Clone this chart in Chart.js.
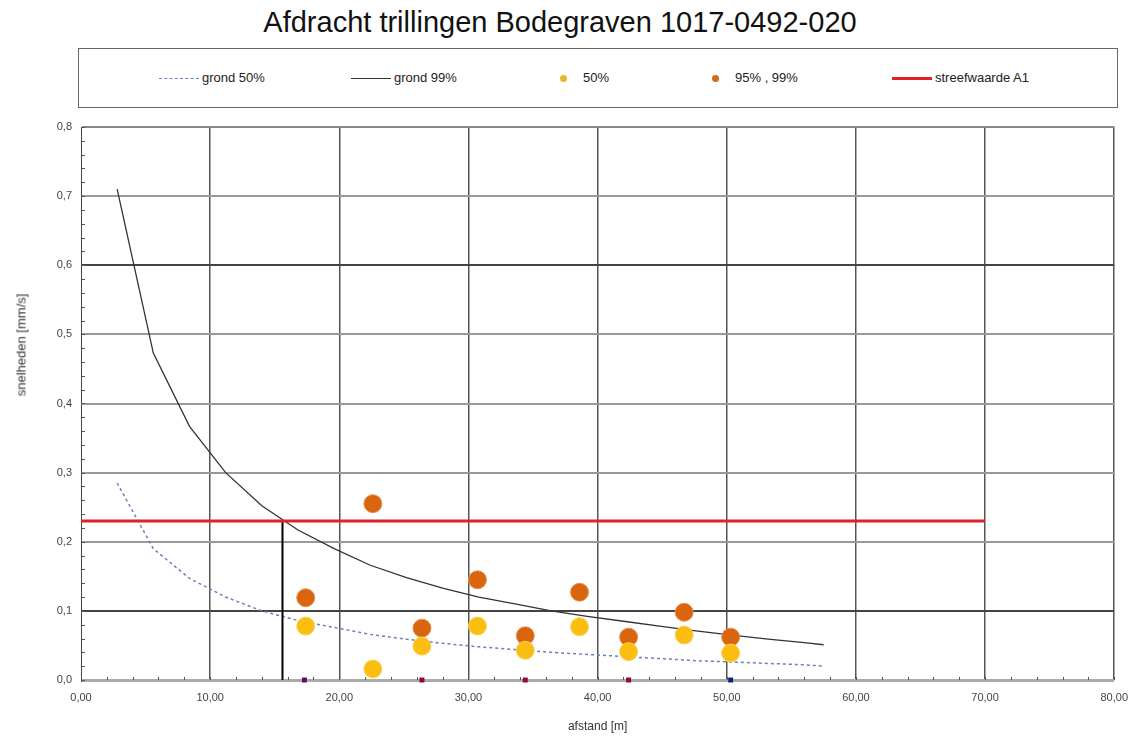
<!DOCTYPE html>
<html>
<head>
<meta charset="utf-8">
<script src="https://cdn.jsdelivr.net/npm/chart.js@4.4.1/dist/chart.umd.min.js"></script>
<style>
    body { margin: 0; background: #fff; font-family: "Liberation Sans", Arial, sans-serif; }
    #page { position: relative; width: 1130px; height: 738px; overflow: hidden; }
    #title { position: absolute; left: 0; top: 6px; width: 1120px; text-align: center; font-size: 29px; color: #111; }
    #legend { position: absolute; left: 78px; top: 48px; width: 1040px; height: 60px; border: 1px solid #666; box-sizing: border-box; }
    .item { position: absolute; top: 21px; font-size: 13px; color: #222; white-space: nowrap; }
    .ln { display: inline-block; vertical-align: middle; width: 40px; margin-right: 3px; }
    .dot { display: inline-block; vertical-align: middle; width: 7px; height: 7px; border-radius: 50%; margin-right: 16px; }
    #ytitle { position: absolute; left: 21px; top: 345px; width: 0; height: 0; }
    #ytitle span { position: absolute; transform: translate(-50%, -50%) rotate(-90deg); white-space: nowrap; font-size: 13px; color: #333; }
    #wrap { position: absolute; left: 0; top: 110px; width: 1139px; height: 628px; }
</style>
</head>
<body>
<div id="page">
    <div id="title">Afdracht trillingen Bodegraven 1017-0492-020</div>
    <div id="legend">
        <div class="item" style="left:80px"><span class="ln" style="border-top:1.5px dashed #6b7fb8"></span>grond 50%</div>
        <div class="item" style="left:272px"><span class="ln" style="border-top:1.5px solid #333"></span>grond 99%</div>
        <div class="item" style="left:481px"><span class="dot" style="background:#e8b830"></span>50%</div>
        <div class="item" style="left:633px"><span class="dot" style="background:#d26a1a"></span>95% , 99%</div>
        <div class="item" style="left:813px"><span class="ln" style="border-top:3px solid #e0202a"></span>streefwaarde A1</div>
    </div>
    <div id="wrap"><canvas id="myChart"></canvas></div>
    <div id="ytitle"><span>snelheden [mm/s]</span></div>
</div>
<script>
    // afstand van de curve punten [m]
    var curveX = [2.8, 5.6, 8.4, 11.2, 14.0, 16.8, 19.6, 22.4, 25.2, 28.0, 30.8, 33.6, 36.4, 39.2, 42.0, 44.8, 47.6, 50.4, 53.2, 56.0, 57.5];
    var grond50 = [0.285, 0.19, 0.147, 0.12, 0.10, 0.086, 0.076, 0.066, 0.059, 0.053, 0.048, 0.044, 0.040, 0.037, 0.034, 0.031, 0.028, 0.026, 0.024, 0.022, 0.020];
    var grond99 = [0.71, 0.473, 0.367, 0.30, 0.252, 0.217, 0.19, 0.166, 0.148, 0.133, 0.12, 0.11, 0.10, 0.092, 0.085, 0.078, 0.071, 0.065, 0.059, 0.054, 0.051];

    // metingen
    var meetX = [17.4, 22.6, 26.4, 30.7, 34.4, 38.6, 42.4, 46.7, 50.3];
    var meet50 = [0.078, 0.016, 0.049, 0.078, 0.043, 0.077, 0.041, 0.065, 0.039];
    var meet95 = [0.119, 0.255, 0.075, 0.145, 0.064, 0.127, 0.062, 0.098, 0.062];

    // streefwaarde en snijpunt
    var streefX = [0, 70];
    var streefY = [0.23, 0.23];
    var snijX = [15.6, 15.6];
    var snijY = [0, 0.23];

    // kleine markeringen op de as
    var markX = [17.3, 26.4, 34.4, 42.4, 50.3];
    var markY = [0, 0, 0, 0, 0];
    var markColors = ['#5a1060', '#8a0c30', '#8a0c30', '#8a0c30', '#10207a'];

    var xTicks = [0, 10, 20, 30, 40, 50, 60, 70, 80];
    var yTicks = [0, 0.1, 0.2, 0.3, 0.4, 0.5, 0.6, 0.7, 0.8];
    var darkY = [0.1, 0.6];

    function pts(xs, ys) {
        var arr = [];
        for (var i = 0; i < xs.length; i++) {
            arr.push({ x: xs[i], y: ys[i] });
        }
        return arr;
    }

    // minor ticks like the excel original
    var minorTicks = {
        id: 'minorTicks',
        afterDraw: function (chart) {
            var ctx = chart.ctx;
            var xs = chart.scales.x;
            var ys = chart.scales.y;
            var a = chart.chartArea;
            ctx.save();
            ctx.strokeStyle = '#555';
            ctx.lineWidth = 1;
            ctx.beginPath();
            for (var v = 0; v <= 0.8001; v += 0.02) {
                var py = Math.round(ys.getPixelForValue(v)) + 0.5;
                ctx.moveTo(a.left, py);
                ctx.lineTo(a.left + 4, py);
            }
            for (var u = 0; u <= 80; u += 2) {
                var px = Math.round(xs.getPixelForValue(u)) + 0.5;
                ctx.moveTo(px, a.bottom);
                ctx.lineTo(px, a.bottom - 3);
            }
            ctx.stroke();
            ctx.restore();
        }
    };

    var ctx = document.getElementById('myChart').getContext('2d');
    var myChart = new Chart(ctx, {
        data: {
            datasets: [
                {
                    type: 'line',
                    label: 'grond 50%',
                    data: pts(curveX, grond50),
                    borderColor: '#6b7fb8',
                    borderWidth: 1.5,
                    borderDash: [3, 3],
                    pointRadius: 0,
                    tension: 0,
                    order: 5
                },
                {
                    type: 'line',
                    label: 'grond 99%',
                    data: pts(curveX, grond99),
                    borderColor: '#333',
                    borderWidth: 1.3,
                    pointRadius: 0,
                    tension: 0,
                    order: 4
                },
                {
                    type: 'scatter',
                    label: '50%',
                    data: pts(meetX, meet50),
                    backgroundColor: '#fbbd10',
                    borderColor: '#fcd060',
                    borderWidth: 1,
                    pointRadius: 9,
                    order: 1
                },
                {
                    type: 'scatter',
                    label: '95% , 99%',
                    data: pts(meetX, meet95),
                    backgroundColor: '#d9660f',
                    borderColor: '#e89050',
                    borderWidth: 1,
                    pointRadius: 9,
                    order: 2
                },
                {
                    type: 'line',
                    label: 'streefwaarde A1',
                    data: pts(streefX, streefY),
                    borderColor: '#e0202a',
                    borderWidth: 3,
                    pointRadius: 0,
                    order: 3
                },
                {
                    type: 'line',
                    label: 'snijpunt',
                    data: pts(snijX, snijY),
                    borderColor: '#000',
                    borderWidth: 2,
                    pointRadius: 0,
                    order: 3
                },
                {
                    type: 'scatter',
                    label: 'as',
                    data: pts(markX, markY),
                    backgroundColor: markColors,
                    borderWidth: 0,
                    pointStyle: 'rect',
                    pointRadius: 3.5,
                    clip: false,
                    order: 0
                }
            ]
        },
        options: {
            responsive: true,
            maintainAspectRatio: false,
            animation: false,
            layout: { padding: { left: 0, right: 9, top: 17, bottom: 0 } },
            plugins: {
                legend: { display: false },
                tooltip: { enabled: false }
            },
            scales: {
                x: {
                    type: 'linear',
                    min: 0,
                    max: 80,
                    afterBuildTicks: function (s) {
                        s.ticks = xTicks.map(function (v) { return { value: v }; });
                    },
                    afterFit: function (s) { s.height = 58; },
                    ticks: {
                        color: '#444',
                        font: { family: 'Liberation Sans', size: 11 },
                        padding: 11,
                        maxRotation: 0,
                        callback: function (v) { return v.toFixed(2).replace('.', ','); }
                    },
                    grid: {
                        color: function (c) {
                            if (c.tick.value === 0) return 'rgba(0,0,0,0)';
                            return '#555';
                        },
                        lineWidth: 1.5,
                        drawTicks: false
                    },
                    border: { display: false },
                    title: {
                        display: true,
                        text: 'afstand [m]',
                        color: '#333',
                        font: { family: 'Liberation Sans', size: 12 },
                        padding: { top: 6 }
                    }
                },
                y: {
                    type: 'linear',
                    min: 0,
                    max: 0.8,
                    afterBuildTicks: function (s) {
                        s.ticks = yTicks.map(function (v) { return { value: v }; });
                    },
                    afterFit: function (s) { s.width = 81; },
                    ticks: {
                        color: '#444',
                        font: { family: 'Liberation Sans', size: 11 },
                        padding: 9,
                        callback: function (v) { return v.toFixed(1).replace('.', ','); }
                    },
                    grid: {
                        color: function (c) {
                            var v = Math.round(c.tick.value * 10) / 10;
                            if (v === 0) return '#aaa';
                            if (v === 0.8) return '#888';
                            if (darkY.indexOf(v) >= 0) return '#444';
                            return '#9a9a9a';
                        },
                        lineWidth: function (c) {
                            var v = Math.round(c.tick.value * 10) / 10;
                            if (v === 0) return 3;
                            return 2;
                        },
                        drawTicks: false
                    },
                    border: { display: true, color: '#444', width: 1 }
                }
            }
        },
        plugins: [minorTicks]
    });
</script>
</body>
</html>
